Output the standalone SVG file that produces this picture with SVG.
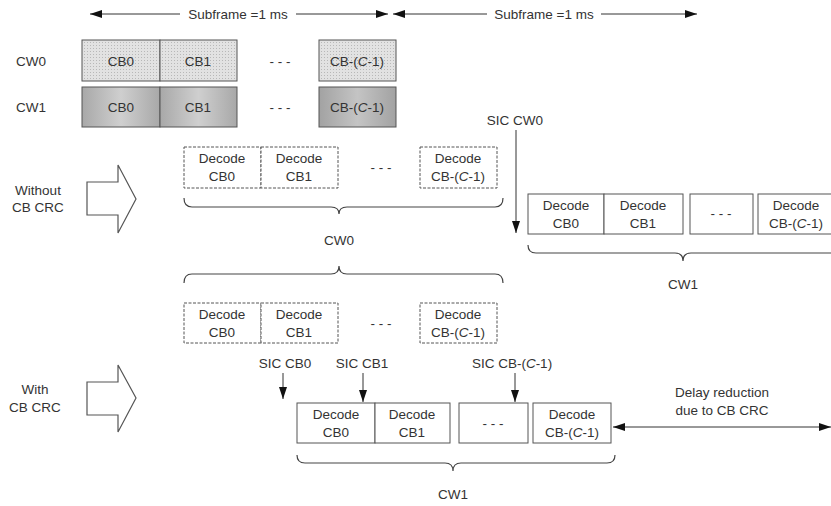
<svg xmlns="http://www.w3.org/2000/svg" width="831" height="506" viewBox="0 0 831 506">
<style>
text{font-family:"Liberation Sans",Arial,sans-serif;font-size:13.5px;fill:#333;text-anchor:middle}
.box{fill:#fff;stroke:#555;stroke-width:1}
.dash{fill:#fff;stroke:#555;stroke-width:1;stroke-dasharray:3,1.5}
.cw0{fill:url(#dots);stroke:#555;stroke-width:1}
.cw1{fill:url(#grad);stroke:#555;stroke-width:1}
.cw1d{fill:url(#grad2);stroke:#555;stroke-width:1}
.ln{stroke:#333;stroke-width:1;fill:none}
.brace{stroke:#444;stroke-width:1.2;fill:none}
.hollow{fill:#fff;stroke:#555;stroke-width:1.2}
</style>
<defs>
<pattern id="dots" width="3" height="3" patternUnits="userSpaceOnUse">
<rect width="3" height="3" fill="#e2e2e2"/>
<rect width="1" height="1" fill="#b8b8b8"/>
</pattern>
<linearGradient id="grad" x1="0" y1="0" x2="1" y2="0">
<stop offset="0" stop-color="#a8a8a8"/>
<stop offset="0.5" stop-color="#cfcfcf"/>
<stop offset="1" stop-color="#a8a8a8"/>
</linearGradient>
<linearGradient id="grad2" x1="0" y1="0" x2="1" y2="0">
<stop offset="0" stop-color="#a2a2a2"/>
<stop offset="0.5" stop-color="#c4c4c4"/>
<stop offset="1" stop-color="#a2a2a2"/>
</linearGradient>
<marker id="ah" viewBox="0 0 12 8" refX="12" refY="4" markerWidth="12" markerHeight="8" markerUnits="userSpaceOnUse" orient="auto-start-reverse">
<path d="M0,0 L12,4 L0,8 Z" fill="#111"/>
</marker>
</defs>

<g id="connectors">
<line class="ln" x1="90" y1="14" x2="180" y2="14" marker-start="url(#ah)"/>
<line class="ln" x1="296" y1="14" x2="388" y2="14" marker-end="url(#ah)"/>
<line class="ln" x1="393" y1="14" x2="487" y2="14" marker-start="url(#ah)"/>
<line class="ln" x1="601" y1="14" x2="697" y2="14" marker-end="url(#ah)"/>
<line class="ln" x1="516" y1="130" x2="516" y2="233" marker-end="url(#ah)"/>
<line class="ln" x1="283" y1="373" x2="283" y2="399" marker-end="url(#ah)"/>
<line class="ln" x1="363" y1="373" x2="363" y2="402" marker-end="url(#ah)"/>
<line class="ln" x1="515" y1="373" x2="515" y2="402" marker-end="url(#ah)"/>
<line class="ln" x1="613" y1="427" x2="831" y2="427" marker-start="url(#ah)" marker-end="url(#ah)"/>
</g>

<g id="subframe-labels">
<text x="238" y="19">Subframe =1 ms</text>
<text x="544" y="19">Subframe =1 ms</text>
</g>

<g id="cw0-row">
<text x="31" y="66">CW0</text>
<rect class="cw0" x="82" y="40" width="78" height="41"/>
<rect class="cw0" x="160" y="40" width="77" height="41"/>
<rect class="cw0" x="319" y="40" width="77" height="41"/>
<text x="121" y="66">CB0</text>
<text x="198" y="66">CB1</text>
<text x="280" y="66">- - -</text>
<text x="357" y="66">CB-(<tspan font-style="italic">C</tspan>-1)</text>
</g>

<g id="cw1-row">
<text x="31" y="112">CW1</text>
<rect class="cw1" x="82" y="87" width="78" height="40"/>
<rect class="cw1" x="160" y="87" width="77" height="40"/>
<rect class="cw1d" x="319" y="87" width="77" height="40"/>
<text x="121" y="112">CB0</text>
<text x="198" y="112">CB1</text>
<text x="280" y="112">- - -</text>
<text x="357" y="112">CB-(<tspan font-style="italic">C</tspan>-1)</text>
</g>

<g id="sic-cw0">
<text x="515" y="125">SIC CW0</text>
</g>

<g id="without-label">
<text x="38" y="195">Without</text>
<text x="38" y="212">CB CRC</text>
<path class="hollow" d="M87,182 L118,182 L118,165 L136,199 L118,233 L118,215 L87,215 Z"/>
</g>

<g id="without-cw0">
<rect class="dash" x="184" y="147" width="77" height="41"/>
<rect class="dash" x="261" y="147" width="77" height="41"/>
<rect class="dash" x="420" y="147" width="77" height="41"/>
<text x="222" y="163">Decode</text>
<text x="222" y="181">CB0</text>
<text x="299" y="163">Decode</text>
<text x="299" y="181">CB1</text>
<text x="381" y="172">- - -</text>
<text x="458" y="163">Decode</text>
<text x="458" y="181">CB-(<tspan font-style="italic">C</tspan>-1)</text>
<path class="brace" d="M184,198 Q184,207 192,207 L331,207 Q339,207 339,214 Q339,207 347,207 L495,207 Q503,207 503,198"/>
<text x="339" y="245">CW0</text>
</g>

<g id="without-cw1">
<rect class="box" x="528" y="194" width="76" height="40"/>
<rect class="box" x="604" y="194" width="79" height="40"/>
<rect class="box" x="690" y="194" width="63" height="40"/>
<rect class="box" x="758" y="194" width="76" height="40"/>
<text x="566" y="210">Decode</text>
<text x="566" y="228">CB0</text>
<text x="643" y="210">Decode</text>
<text x="643" y="228">CB1</text>
<text x="721" y="218">- - -</text>
<text x="796" y="210">Decode</text>
<text x="796" y="228">CB-(<tspan font-style="italic">C</tspan>-1)</text>
<path class="brace" d="M528,245 Q528,253 536,253 L675,253 Q683,253 683,261 Q683,253 691,253 L840,253"/>
<text x="683" y="289">CW1</text>
</g>

<g id="with-cw0">
<path class="brace" d="M184,283 Q184,274 192,274 L331,274 Q339,274 339,266 Q339,274 347,274 L495,274 Q503,274 503,283"/>
<rect class="dash" x="184" y="303" width="77" height="40"/>
<rect class="dash" x="261" y="303" width="77" height="40"/>
<rect class="dash" x="420" y="303" width="77" height="40"/>
<text x="222" y="319">Decode</text>
<text x="222" y="337">CB0</text>
<text x="299" y="319">Decode</text>
<text x="299" y="337">CB1</text>
<text x="381" y="328">- - -</text>
<text x="458" y="319">Decode</text>
<text x="458" y="337">CB-(<tspan font-style="italic">C</tspan>-1)</text>
</g>

<g id="sic-labels">
<text x="285" y="368">SIC CB0</text>
<text x="362" y="368">SIC CB1</text>
<text x="512" y="368">SIC CB-(<tspan font-style="italic">C</tspan>-1)</text>
</g>

<g id="with-label">
<text x="35" y="394">With</text>
<text x="35" y="412">CB CRC</text>
<path class="hollow" d="M87,382 L118,382 L118,365 L136,398 L118,432 L118,415 L87,415 Z"/>
</g>

<g id="with-cw1">
<rect class="box" x="297" y="403" width="78" height="40"/>
<rect class="box" x="375" y="403" width="75" height="40"/>
<rect class="box" x="459" y="403" width="69" height="40"/>
<rect class="box" x="533" y="403" width="78" height="40"/>
<text x="336" y="419">Decode</text>
<text x="336" y="437">CB0</text>
<text x="412" y="419">Decode</text>
<text x="412" y="437">CB1</text>
<text x="493" y="428">- - -</text>
<text x="572" y="419">Decode</text>
<text x="572" y="437">CB-(<tspan font-style="italic">C</tspan>-1)</text>
<path class="brace" d="M297,455 Q297,463 305,463 L445,463 Q453,463 453,471 Q453,463 461,463 L607,463 Q615,463 615,455"/>
<text x="453" y="499">CW1</text>
</g>

<g id="delay-label">
<text x="722" y="397">Delay reduction</text>
<text x="722" y="415">due to CB CRC</text>
</g>
</svg>
